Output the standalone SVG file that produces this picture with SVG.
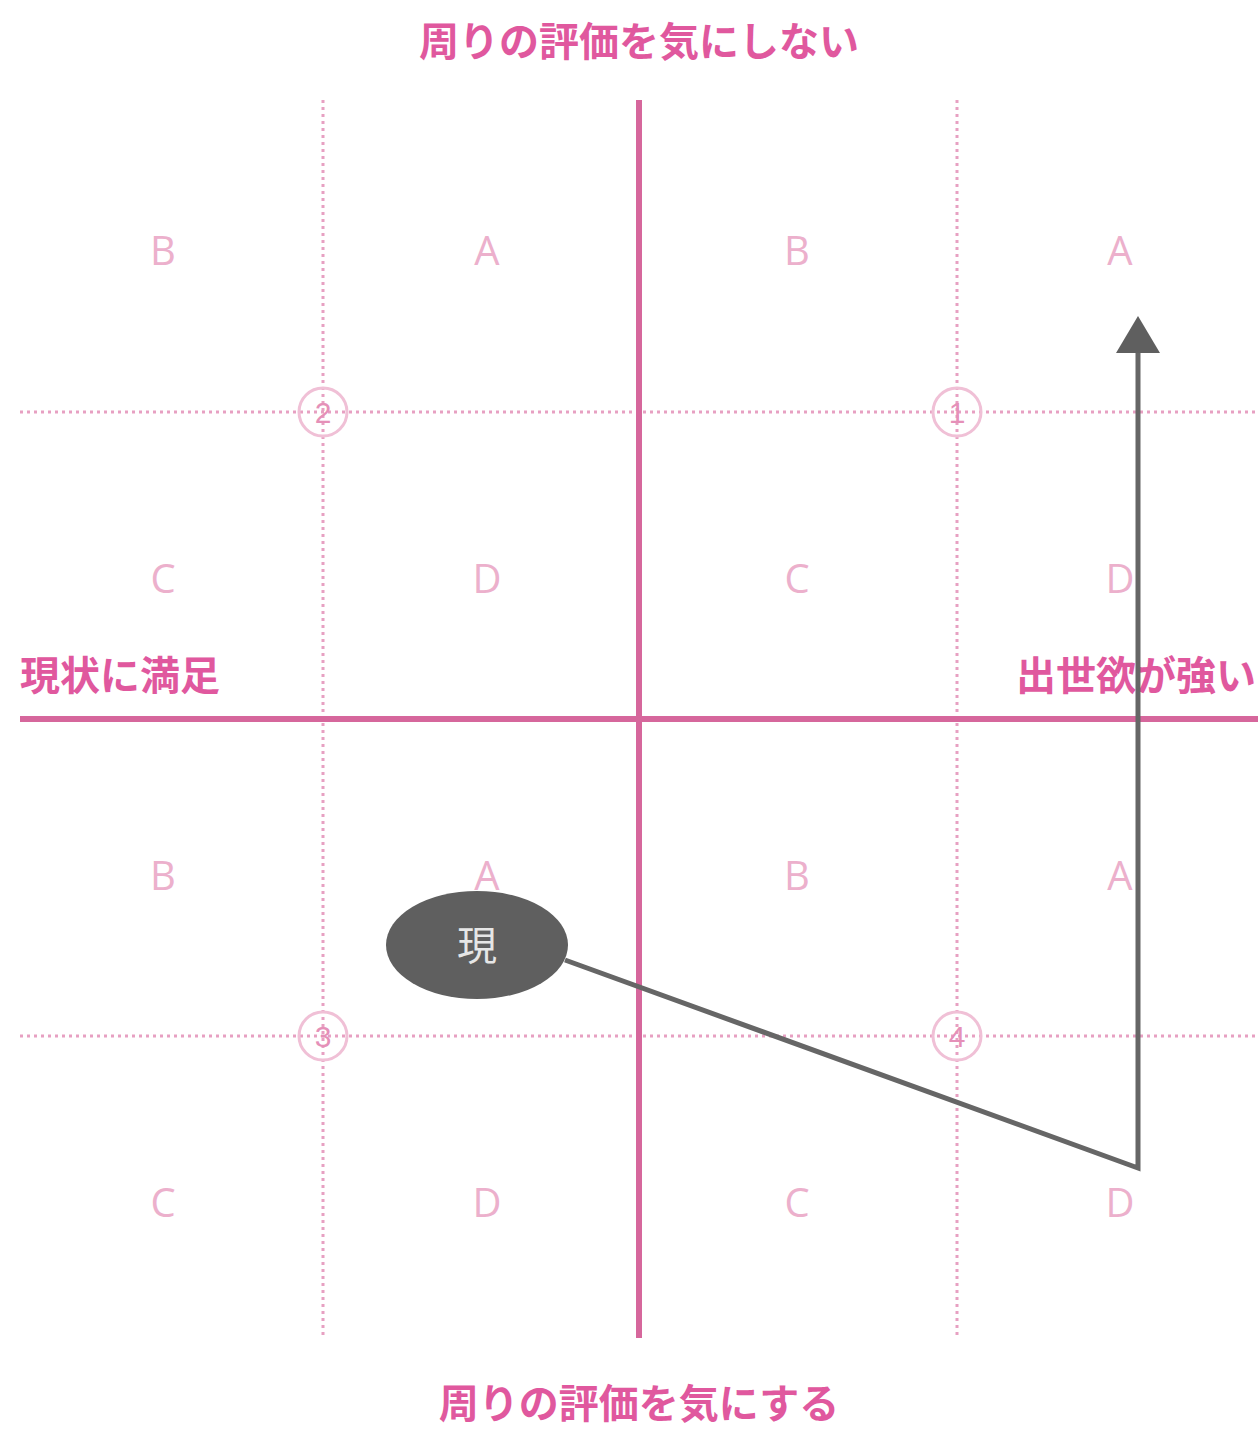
<svg xmlns="http://www.w3.org/2000/svg" width="1258" height="1433" viewBox="0 0 1258 1433">
<style>
.lbl{font-family:"Noto Sans CJK JP","Noto Sans",sans-serif;font-weight:bold;fill:#e0589e;font-size:40px}
.q{font-family:"Open Sans","Liberation Sans",sans-serif;fill:#ecb0cc;font-size:40px;text-anchor:middle}
.dot{stroke:#e7a0c2;stroke-width:3;stroke-dasharray:3 4;fill:none}
.solid{stroke:#d6679c;stroke-width:6;fill:none}
.circ{fill:none;stroke:#f0c0d6;stroke-width:3}
.num{font-family:"Liberation Sans",sans-serif;fill:#e590b8;font-size:30px;text-anchor:middle}
</style>
<rect width="1258" height="1433" fill="#fff"/>
<g id="grid">
<line class="dot" x1="323" y1="100" x2="323" y2="1338"/>
<line class="dot" x1="957" y1="100" x2="957" y2="1338"/>
<line class="dot" x1="20" y1="412" x2="1258" y2="412"/>
<line class="dot" x1="20" y1="1036" x2="1258" y2="1036"/>
<line class="solid" x1="639" y1="100" x2="639" y2="1338"/>
<line class="solid" x1="20" y1="719" x2="1258" y2="719"/>
</g>
<g id="markers">
<circle class="circ" cx="323" cy="412" r="24"/><text class="num" x="323" y="423">2</text>
<circle class="circ" cx="957" cy="412" r="24"/><text class="num" x="957" y="423">1</text>
<circle class="circ" cx="323" cy="1036" r="24"/><text class="num" x="323" y="1047">3</text>
<circle class="circ" cx="957" cy="1036" r="24"/><text class="num" x="957" y="1047">4</text>
</g>
<g id="cells">
<text class="q" x="163" y="265">B</text><text class="q" x="487" y="265">A</text><text class="q" x="797" y="265">B</text><text class="q" x="1120" y="265">A</text>
<text class="q" x="163" y="593">C</text><text class="q" x="487" y="593">D</text><text class="q" x="797" y="593">C</text><text class="q" x="1120" y="593">D</text>
<text class="q" x="163" y="890">B</text><text class="q" x="487" y="890">A</text><text class="q" x="797" y="890">B</text><text class="q" x="1120" y="890">A</text>
<text class="q" x="163" y="1217">C</text><text class="q" x="487" y="1217">D</text><text class="q" x="797" y="1217">C</text><text class="q" x="1120" y="1217">D</text>
</g>
<g id="labels">
<text class="lbl" x="639" y="56" text-anchor="middle">周りの評価を気にしない</text>
<text class="lbl" x="639" y="1418" text-anchor="middle">周りの評価を気にする</text>
<text class="lbl" x="20" y="690">現状に満足</text>
<text class="lbl" x="1016" y="690" font-size="39">出世欲が強い</text>
</g>
<g id="connectors">
<polyline points="565,960 1138,1168 1138,348" fill="none" stroke="#666" stroke-width="5" stroke-linejoin="miter"/>
<polygon points="1138,316 1160,353 1116,353" fill="#5f5f5f"/>
</g>
<g id="node-current">
<ellipse cx="477" cy="945" rx="91" ry="54" fill="#5f5f5f"/>
<text x="477" y="960" text-anchor="middle" font-family="Noto Sans CJK JP,sans-serif" font-size="40" fill="#e6e6e6">現</text>
</g>
</svg>
